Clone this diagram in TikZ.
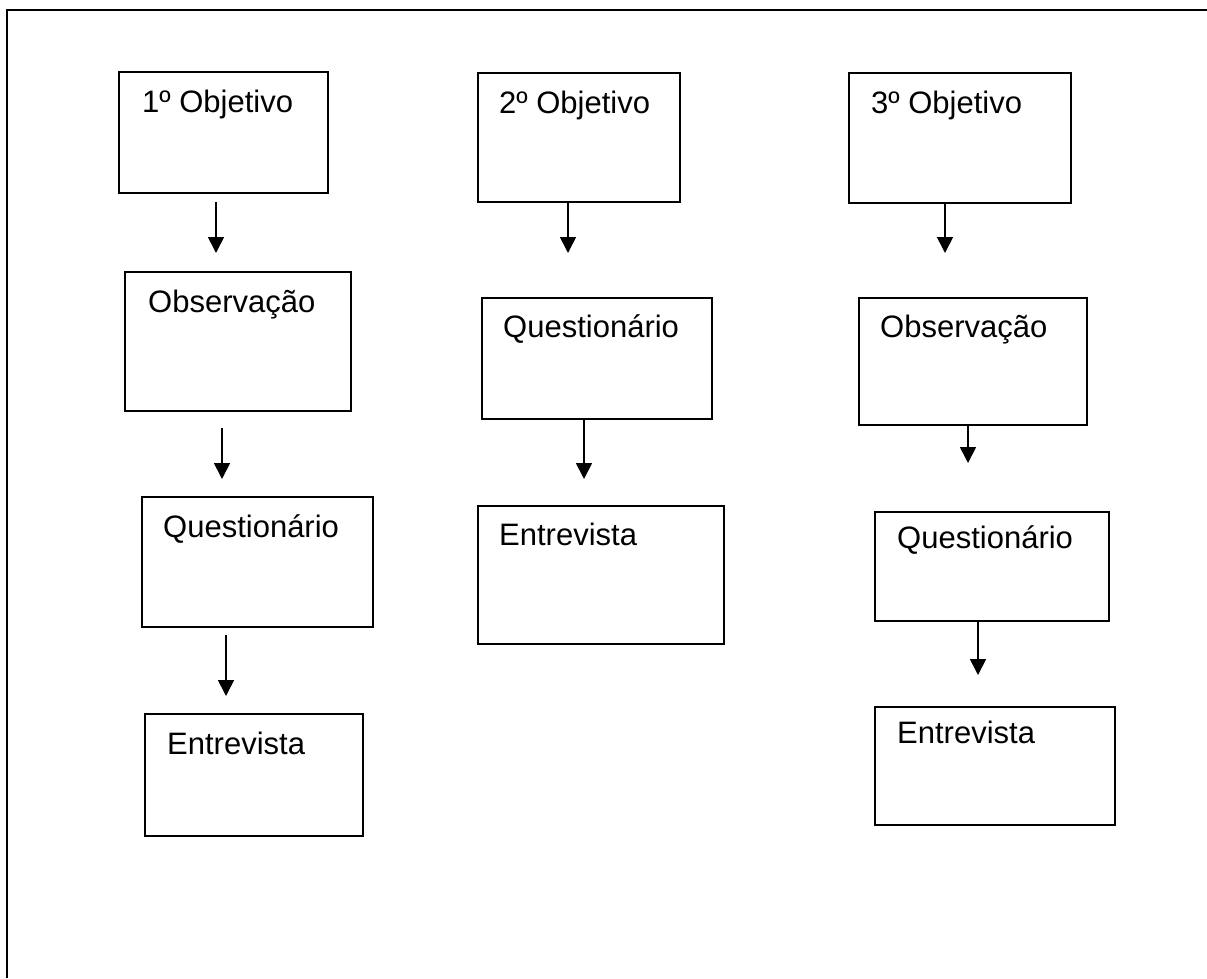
\documentclass[tikz,border=0pt]{standalone}
\usepackage{fontspec}
\setmainfont{Liberation Sans}
\usetikzlibrary{arrows.meta}
\begin{document}
\begin{tikzpicture}[x=1pt,y=-1pt,
  boxnode/.style={draw, line width=2pt, rectangle, inner sep=0pt, outer sep=0pt, anchor=north west},
  lbl/.style={anchor=base west, inner sep=0pt, font=\fontsize{31}{36}\selectfont},
  arr/.style={line width=1.7pt, -{Triangle[width=16pt,length=16pt]}}]
\useasboundingbox (0,0) rectangle (1207,978);
\draw[line width=2pt] (7,978) -- (7,10) -- (1207,10);
% column 1
\node[boxnode, minimum width=209pt, minimum height=121pt] (b1) at (119,72) {};
\node[lbl] (t1) at ([xshift=23pt,yshift=-40pt]b1.north west) {1º Objetivo};
\node[boxnode, minimum width=226pt, minimum height=139pt] (obs1) at (125,272) {};
\node[lbl] (t2) at ([xshift=23pt,yshift=-40pt]obs1.north west) {Observação};
\node[boxnode, minimum width=231pt, minimum height=130pt] (q1) at (142,497) {};
\node[lbl] (t3) at ([xshift=21pt,yshift=-40pt]q1.north west) {Questionário};
\node[boxnode, minimum width=218pt, minimum height=122pt] (e1) at (145,714) {};
\node[lbl] (t4) at ([xshift=22pt,yshift=-40pt]e1.north west) {Entrevista};
\draw[arr] ([xshift=-7.5pt,yshift=-9pt]b1.south) -- ([xshift=-22pt,yshift=19pt]obs1.north);
\draw[arr] ([xshift=-16pt,yshift=-17pt]obs1.south) -- ([xshift=-35.5pt,yshift=18pt]q1.north);
\draw[arr] ([xshift=-31.5pt,yshift=-8pt]q1.south) -- ([xshift=-28pt,yshift=18pt]e1.north);
% column 2
\node[boxnode, minimum width=202pt, minimum height=129pt] (b2) at (478,73) {};
\node[lbl] (t5) at ([xshift=21pt,yshift=-40pt]b2.north west) {2º Objetivo};
\node[boxnode, minimum width=230pt, minimum height=121pt] (q2) at (482,298) {};
\node[lbl] (t6) at ([xshift=21pt,yshift=-39pt]q2.north west) {Questionário};
\node[boxnode, minimum width=246pt, minimum height=138pt] (e2) at (478,506) {};
\node[lbl] (t7) at ([xshift=21pt,yshift=-39pt]e2.north west) {Entrevista};
\draw[arr] ([xshift=-11pt]b2.south) -- ([xshift=-29pt,yshift=45pt]q2.north);
\draw[arr] ([xshift=-13pt]q2.south) -- ([xshift=-17pt,yshift=27pt]e2.north);
% column 3
\node[boxnode, minimum width=222pt, minimum height=130pt] (b3) at (849,73) {};
\node[lbl] (t8) at ([xshift=22pt,yshift=-40pt]b3.north west) {3º Objetivo};
\node[boxnode, minimum width=228pt, minimum height=127pt] (obs3) at (859,298) {};
\node[lbl] (t9) at ([xshift=21pt,yshift=-39pt]obs3.north west) {Observação};
\node[boxnode, minimum width=234pt, minimum height=109pt] (q3) at (875,512) {};
\node[lbl] (t10) at ([xshift=22pt,yshift=-36pt]q3.north west) {Questionário};
\node[boxnode, minimum width=240pt, minimum height=118pt] (e3) at (875,707) {};
\node[lbl] (t11) at ([xshift=22pt,yshift=-36pt]e3.north west) {Entrevista};
\draw[arr] ([xshift=-15pt]b3.south) -- ([xshift=-28pt,yshift=45pt]obs3.north);
\draw[arr] ([xshift=-5pt]obs3.south) -- ([xshift=-24pt,yshift=49pt]q3.north);
\draw[arr] ([xshift=-14pt]q3.south) -- ([xshift=-17pt,yshift=32pt]e3.north);
\end{tikzpicture}
\end{document}
